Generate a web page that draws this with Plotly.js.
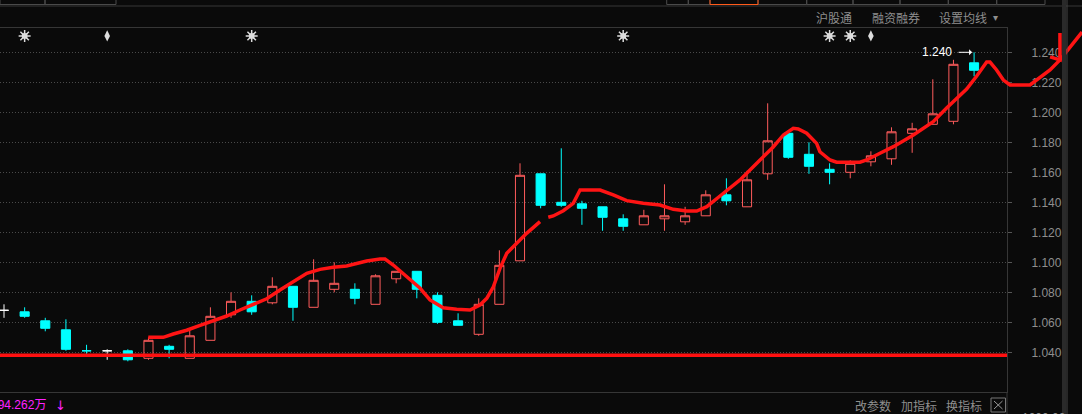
<!DOCTYPE html>
<html><head><meta charset="utf-8">
<script src="https://cdn.plot.ly/plotly-3.0.1.min.js"></script>
<style>html,body{margin:0;padding:0;background:#0a0a0a;overflow:hidden}#chart{width:1082px;height:414px}</style>
</head><body><div id="chart"></div>
<script>
// ---- data ----
const dayIdx = [0,1,2,3,4,5,6,7,8,9,10,11,12,13,14,15,16,17,18,19,20,21,22,23,24,25,26,27,28,29,30,31,32,33,34,35,36,37,38,39,40,41,42,43,44,45,46,47];
const openP  = [1.068,1.067,1.061,1.055,1.041,1.041,1.041,1.036,1.044,1.036,1.048,1.065,1.074,1.073,1.084,1.070,1.082,1.082,1.072,1.089,1.094,1.078,1.061,1.052,1.072,1.101,1.159,1.140,1.139,1.137,1.129,1.125,1.129,1.127,1.131,1.145,1.137,1.159,1.186,1.172,1.162,1.160,1.167,1.169,1.186,1.192,1.194,1.233];
const highP  = [1.072,1.070,1.063,1.062,1.045,1.042,1.042,1.050,1.045,1.055,1.070,1.080,1.078,1.090,1.084,1.102,1.100,1.086,1.092,1.094,1.094,1.080,1.066,1.076,1.108,1.166,1.159,1.176,1.141,1.137,1.132,1.135,1.152,1.137,1.148,1.156,1.161,1.206,1.186,1.180,1.166,1.168,1.174,1.190,1.193,1.222,1.235,1.240];
const lowP   = [1.063,1.063,1.054,1.041,1.039,1.035,1.034,1.035,1.036,1.036,1.048,1.063,1.065,1.072,1.061,1.070,1.080,1.072,1.072,1.086,1.076,1.059,1.058,1.051,1.072,1.101,1.136,1.137,1.125,1.121,1.121,1.125,1.121,1.125,1.131,1.138,1.137,1.155,1.169,1.159,1.152,1.156,1.164,1.165,1.173,1.192,1.192,1.224];
const closeP = [1.068,1.064,1.056,1.042,1.041,1.041,1.035,1.048,1.042,1.051,1.064,1.074,1.067,1.084,1.070,1.088,1.086,1.076,1.091,1.094,1.082,1.060,1.058,1.072,1.098,1.158,1.138,1.138,1.136,1.130,1.124,1.131,1.131,1.131,1.145,1.141,1.155,1.181,1.170,1.164,1.160,1.166,1.171,1.187,1.189,1.199,1.232,1.228];

// hand-drawn red trend stroke (index position, price)
const drawX = [6.99,7.72,8.20,8.85,9.50,10.14,10.79,11.43,12.08,12.73,13.37,14.02,14.67,15.31,15.95,16.60,17.25,17.57,18.22,18.46,18.86,19.51,20.16,20.64,21.28,21.93,22.58,23.06,23.39,23.71,24.03,24.36,24.84,25.32,25.97,null,
  26.37,26.61,27.10,27.58,27.91,28.55,28.88,29.52,30.17,30.97,31.78,32.43,33.08,33.56,34.05,34.69,35.66,36.63,37.27,37.76,38.24,38.48,38.89,39.37,39.53,40.02,40.34,41.47,41.80,42.44,43.09,44.06,45.02,45.67,46.16,46.64,47.13,47.61,47.77,48.09,48.42,48.74,49.71,50.19,50.68,51.16,51.65,52.23,null,
  50.68,51.16,51.16];
const drawY = [1.0500,1.0500,1.0522,1.0547,1.0580,1.0611,1.0642,1.0682,1.0722,1.0757,1.0815,1.0869,1.0927,1.0953,1.0967,1.0975,1.0995,1.1009,1.1022,1.1022,1.0982,1.0904,1.0827,1.0749,1.0697,1.0687,1.0682,1.0715,1.0760,1.0837,1.0960,1.1060,1.1127,1.1193,1.1271,null,
  1.1300,1.1309,1.1344,1.1393,1.1482,1.1482,1.1482,1.1449,1.1411,1.1393,1.1382,1.1353,1.1342,1.1342,1.1371,1.1442,1.1549,1.1682,1.1769,1.1849,1.1893,1.1889,1.1860,1.1793,1.1737,1.1682,1.1667,1.1667,1.1682,1.1727,1.1771,1.1849,1.1937,1.2029,1.2089,1.2155,1.2242,1.2335,1.2335,1.2282,1.2215,1.2182,1.2182,1.2229,1.2282,1.2349,1.2435,1.2535,null,
  1.2369,1.2349,1.2529];

const supportLevel = 1.038;
const tickVals = [1.040,1.060,1.080,1.100,1.120,1.140,1.160,1.180,1.200,1.220,1.240];
const tickText = ['1.040','1.060','1.080','1.100','1.120','1.140','1.160','1.180','1.200','1.220','1.240'];
const eventIdx  = [1,5,12,30,40,41,42];
const eventKind = ['star','arrow','star','star','star','star','arrow'];
const eventRowPrice = 1.2509;
const volumeText = '894.262万';
const topMenu = ['沪股通','融资融券','设置均线'];
const bottomMenu = ['改参数','加指标','换指标'];

// ---- layout geometry ----
const W = 1082, H = 414;
const plotRight = 1007, plotTop = 28, plotBottom = 392;
const pxPerDay = 20.64, firstCandlePx = 4;
const xa0 = -firstCandlePx / pxPerDay;
const xa1 = xa0 + plotRight / pxPerDay;
const xb1 = xa0 + W / pxPerDay;
const pxPerPrice = 1500, refPrice = 1.240, refPx = 52.3;
const yTop = refPrice + (refPx - plotTop) / pxPerPrice;
const yBot = refPrice - (plotBottom - refPx) / pxPerPrice;
const px = v => v / W, py = v => 1 - v / H;

// classify candles
const kind = dayIdx.map(i => closeP[i] > openP[i] ? 'up' : closeP[i] < openP[i] ? 'down' :
  (i > 0 && closeP[i] < closeP[i-1] ? 'down' : 'flat'));
function candle(k, lineCol, fillCol) {
  const sel = dayIdx.filter(i => kind[i] === k);
  return {type:'candlestick', xaxis:'x', yaxis:'y',
    x: sel, open: sel.map(i=>openP[i]), high: sel.map(i=>highP[i]), low: sel.map(i=>lowP[i]), close: sel.map(i=>closeP[i]),
    whiskerwidth:0,
    increasing:{line:{color:lineCol,width:1}, fillcolor:fillCol},
    decreasing:{line:{color:lineCol,width:1}, fillcolor:fillCol},
    hoverinfo:'skip', showlegend:false};
}
const starX = eventIdx.filter((_,j)=>eventKind[j]==='star');
const arrowX = eventIdx.filter((_,j)=>eventKind[j]==='arrow');
const markCol = '#dcdcdc';
const traces = [
  candle('up', '#ff5c5c', 'rgba(0,0,0,0)'),
  candle('down', '#00ffff', '#00ffff'),
  candle('flat', '#ffffff', '#ffffff'),
  {type:'scatter', mode:'markers', xaxis:'x', yaxis:'y', x: starX, y: starX.map(()=>eventRowPrice),
   marker:{symbol:'asterisk-open', size:10, color:markCol, line:{color:markCol, width:1.5}}, hoverinfo:'skip'},
  {type:'scatter', mode:'markers', xaxis:'x', yaxis:'y', x: starX, y: starX.map(()=>eventRowPrice),
   marker:{symbol:'square', size:5.5, color:markCol, line:{width:0}}, hoverinfo:'skip'},
  {type:'scatter', mode:'markers', xaxis:'x', yaxis:'y', x: arrowX, y: arrowX.map(()=>eventRowPrice),
   marker:{symbol:'diamond-tall', size:8, color:markCol, line:{width:0}}, hoverinfo:'skip'},
  {type:'scatter', mode:'lines', xaxis:'x2', yaxis:'y2', x: drawX, y: drawY, connectgaps:false,
   line:{color:'#ff1414', width:3.5}, hoverinfo:'skip'}
];

const grayTxt = '#8e8e8e';
const cjk = '"Noto Sans CJK SC", sans-serif';
const ann = [];
// top menu
[[834,18],[895.5,18],[963,18]].forEach((p,j)=>ann.push({xref:'paper',yref:'paper',x:px(p[0]),y:py(p[1]),text:topMenu[j],showarrow:false,xanchor:'center',yanchor:'middle',font:{family:cjk,size:12,color:grayTxt}}));
ann.push({xref:'paper',yref:'paper',x:px(995),y:py(18),text:'▾',showarrow:false,xanchor:'center',yanchor:'middle',font:{family:'DejaVu Sans',size:10,color:grayTxt}});
// bottom menu
[[873,405],[918.5,405],[964,405]].forEach((p,j)=>ann.push({xref:'paper',yref:'paper',x:px(p[0]),y:py(p[1]),text:bottomMenu[j],showarrow:false,xanchor:'center',yanchor:'middle',font:{family:cjk,size:12,color:grayTxt}}));
// volume readout
ann.push({xref:'paper',yref:'paper',x:px(48),y:py(405),text:volumeText,showarrow:false,xanchor:'right',yanchor:'middle',font:{family:'"Liberation Sans", "Noto Sans CJK SC"',size:12,color:'#ff22ff'}});
ann.push({xref:'paper',yref:'paper',x:px(60),y:py(405),text:'↓',showarrow:false,xanchor:'center',yanchor:'middle',font:{family:'DejaVu Sans',size:13,color:'#ff22ff'}});
// max label with arrow
ann.push({xref:'x',yref:'y',x:dayIdx[47],y:highP[47],text:highP[47].toFixed(3),showarrow:false,xanchor:'right',yanchor:'middle',xshift:-20,font:{family:'"Liberation Sans", "DejaVu Sans"',size:12,color:'#ffffff'}});
ann.push({xref:'x',yref:'y',x:dayIdx[47],y:highP[47],text:'',showarrow:true,ax:-15,ay:0,xshift:-2,arrowhead:1,arrowsize:1,arrowwidth:1,arrowcolor:'#ffffff',standoff:0,startstandoff:0});
// partial bottom-right value
ann.push({xref:'paper',yref:'paper',x:px(1020),y:py(409),text:'1000.00',showarrow:false,xanchor:'left',yanchor:'top',font:{family:'Liberation Sans',size:12,color:grayTxt}});

const lineCol = '#363636';
const shapes = [
  {type:'line', xref:'x domain', yref:'y', x0:0, x1:1, y0:supportLevel, y1:supportLevel, line:{color:'#ff1010', width:3.5}, layer:'above'},
  {type:'line', xref:'paper', yref:'paper', x0:0, x1:1, y0:py(6), y1:py(6), line:{color:lineCol, width:1}},
  {type:'line', xref:'paper', yref:'paper', x0:px(plotRight), x1:px(plotRight), y0:py(plotBottom), y1:0, line:{color:lineCol, width:1}},
  {type:'rect', xref:'paper', yref:'paper', x0:px(1062), x1:px(1066), y0:0, y1:1, line:{width:0}, fillcolor:'#2a2a2a'},
  {type:'line', xref:'paper', yref:'paper', x0:px(1067), x1:px(1067), y0:0, y1:1, line:{color:'#444', width:1}},
  {type:'rect', xref:'paper', yref:'paper', x0:px(991), x1:px(1005.5), y0:py(412), y1:py(398), line:{color:'#777', width:1}},
  {type:'line', xref:'paper', yref:'paper', x0:px(994), x1:px(1002.5), y0:py(409), y1:py(401), line:{color:'#999', width:1}},
  {type:'line', xref:'paper', yref:'paper', x0:px(994), x1:px(1002.5), y0:py(401), y1:py(409), line:{color:'#999', width:1}}
];
// top tabs
const tabEdges = [[0,45],[45,116],[666.7,688.3],[688.3,710],[758,806.7],[806.7,853],[853,900],[900,948.3],[948.3,996.7],[996.7,1045]];
tabEdges.forEach(e=>shapes.push({type:'rect',xref:'paper',yref:'paper',x0:px(e[0]),x1:px(e[1]),y0:py(4.5),y1:py(-2),line:{color:'#4a4a4a',width:1},fillcolor:'rgba(0,0,0,0)'}));
shapes.push({type:'rect',xref:'paper',yref:'paper',x0:px(710),x1:px(758),y0:py(4.5),y1:py(-2),line:{color:'#ff5a1a',width:1},fillcolor:'rgba(0,0,0,0)'});

const layout = {
  width:W, height:H, margin:{l:0,r:0,t:0,b:0},
  paper_bgcolor:'#0a0a0a', plot_bgcolor:'rgba(0,0,0,0)', showlegend:false, hovermode:false,
  boxgap:0.37,
  xaxis:{domain:[0, plotRight/W], range:[xa0, xa1], showgrid:false, zeroline:false, showticklabels:false, ticks:'',
         showline:true, mirror:true, linecolor:lineCol, linewidth:1, rangeslider:{visible:false}, fixedrange:true},
  xaxis2:{domain:[0,1], range:[xa0, xb1], anchor:'y2', visible:false, fixedrange:true},
  yaxis:{domain:[1 - plotBottom/H, 1 - plotTop/H], range:[yBot, yTop], side:'right', anchor:'x',
         tickvals:tickVals, ticktext:tickText, showgrid:true, gridcolor:'#4a4a4a', griddash:'1px,2px', gridwidth:1,
         zeroline:false, ticks:'outside', ticklen:4, tickcolor:'#555', showline:true, linecolor:lineCol,
         ticklabelstandoff:17, tickfont:{family:'Liberation Sans', size:12, color:grayTxt}, fixedrange:true},
  yaxis2:{overlaying:'y', range:[yBot, yTop], anchor:'x2', visible:false, fixedrange:true},
  annotations: ann, shapes: shapes
};
Plotly.newPlot('chart', traces, layout, {displayModeBar:false, staticPlot:true});
</script></body></html>
